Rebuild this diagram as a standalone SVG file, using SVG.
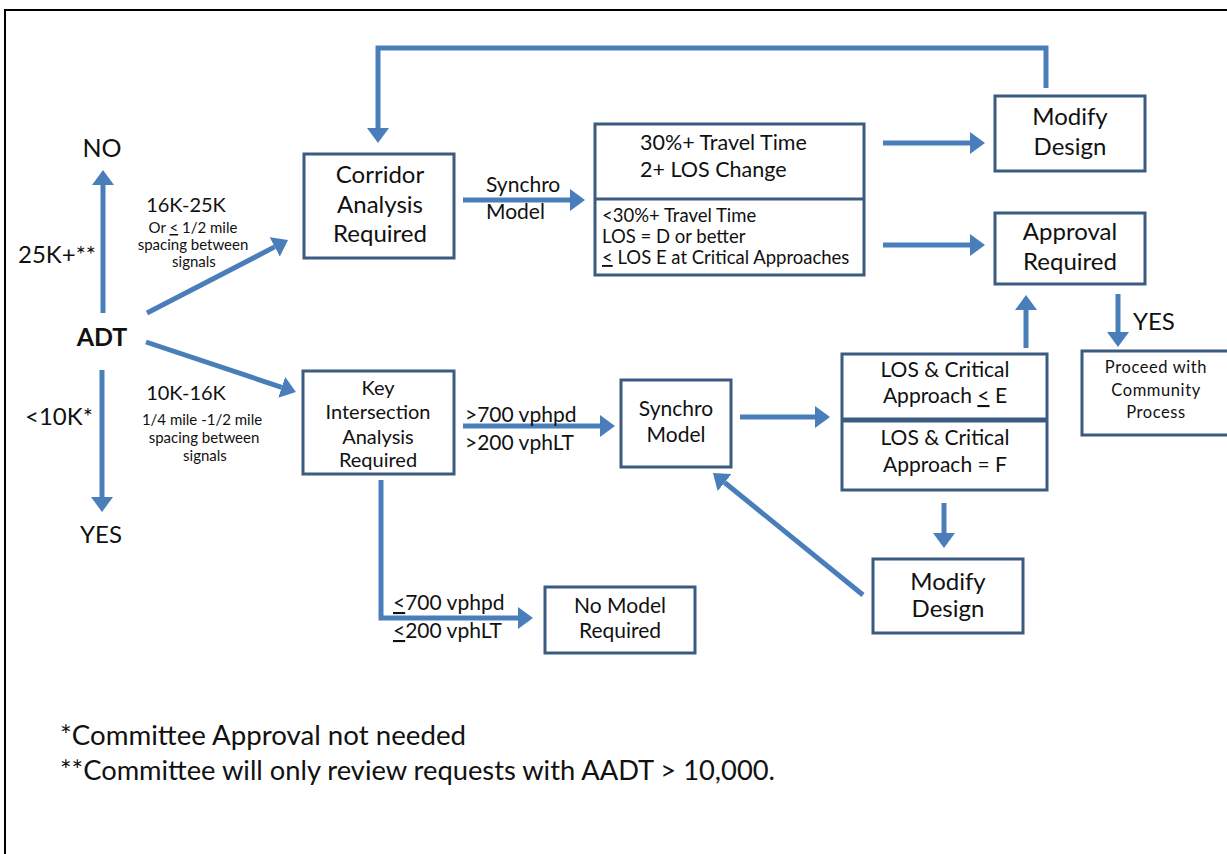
<svg xmlns="http://www.w3.org/2000/svg" width="1227" height="854" viewBox="0 0 1227 854">
<style>
text{font-family:Lato,"Open Sans","Liberation Sans",sans-serif;fill:#111}
.box{fill:#fff;stroke:#3b5b80;stroke-width:3}
.div{stroke:#3b5b80;stroke-width:3}
.con{fill:none;stroke:#4a7ebb;stroke-width:5}
.c{text-anchor:middle}
.b24{font-size:24px}
.b21{font-size:21px}
.b20{font-size:20px}
.lbl{font-size:24px}
.sm{font-size:15px}
.s18{font-size:18.5px}
.note{font-size:27.4px}
.u{text-decoration:underline}
</style>
<defs>
<marker id="ah" viewBox="0 0 15 22" refX="0" refY="11" markerWidth="15" markerHeight="22" markerUnits="userSpaceOnUse" orient="auto">
<path d="M0,0 L15,11 L0,22 z" fill="#4a7ebb"/>
</marker>
</defs>
<rect x="0" y="0" width="1227" height="854" fill="#fff"/>
<g id="frame">
<line x1="5" y1="10" x2="1227" y2="10" stroke="#000" stroke-width="2"/>
<line x1="5" y1="9" x2="5" y2="854" stroke="#000" stroke-width="2"/>
</g>
<g id="connectors">
<line class="con" x1="103" y1="313" x2="103" y2="185" marker-end="url(#ah)"/>
<line class="con" x1="102" y1="370" x2="102" y2="497" marker-end="url(#ah)"/>
<line class="con" x1="147" y1="313" x2="274.7" y2="246.9" marker-end="url(#ah)"/>
<line class="con" x1="146" y1="342" x2="281.7" y2="387.3" marker-end="url(#ah)"/>
<polyline class="con" points="1046,88 1046,48 378,48 378,128" marker-end="url(#ah)"/>
<line class="con" x1="463" y1="200" x2="570" y2="200" marker-end="url(#ah)"/>
<line class="con" x1="883" y1="143" x2="970" y2="143" marker-end="url(#ah)"/>
<line class="con" x1="883" y1="245" x2="970" y2="245" marker-end="url(#ah)"/>
<line class="con" x1="1026" y1="348" x2="1026" y2="310" marker-end="url(#ah)"/>
<line class="con" x1="1118" y1="294" x2="1118" y2="332" marker-end="url(#ah)"/>
<line class="con" x1="463" y1="426" x2="600" y2="426" marker-end="url(#ah)"/>
<line class="con" x1="740" y1="417" x2="815" y2="417" marker-end="url(#ah)"/>
<polyline class="con" points="381,480 381,618 518,618" marker-end="url(#ah)"/>
<line class="con" x1="944" y1="503" x2="944" y2="533" marker-end="url(#ah)"/>
<line class="con" x1="863" y1="595" x2="724.6" y2="482.5" marker-end="url(#ah)"/>
</g>
<g id="labels">
<text class="lbl c" x="102" y="157" style="font-size:25px">NO</text>
<text class="lbl" x="18" y="263">25K+**</text>
<text class="lbl c" x="102" y="346" font-weight="bold" style="font-size:25px">ADT</text>
<text class="lbl" x="25" y="425">&lt;10K*</text>
<text class="lbl c" x="101" y="543">YES</text>
<text class="b20 c" x="186" y="212">16K-25K</text>
<text class="sm c" x="193" y="233">Or <tspan class="u">&lt;</tspan> 1/2 mile</text>
<text class="sm c" x="193" y="250">spacing between</text>
<text class="sm c" x="194" y="267">signals</text>
<text class="b20 c" x="186" y="400">10K-16K</text>
<text class="sm c" x="202" y="425">1/4 mile -1/2 mile</text>
<text class="sm c" x="204" y="443">spacing between</text>
<text class="sm c" x="205" y="461">signals</text>
<text class="b21" x="486" y="192">Synchro</text>
<text class="b21" x="486" y="219">Model</text>
<text class="b21" x="465" y="422">&gt;700 vphpd</text>
<text class="b21" x="465" y="450">&gt;200 vphLT</text>
<text class="b21" x="393" y="610"><tspan class="u">&lt;</tspan>700 vphpd</text>
<text class="b21" x="393" y="638"><tspan class="u">&lt;</tspan>200 vphLT</text>
<text class="lbl" x="1133" y="330">YES</text>
</g>
<g id="corridor">
<rect class="box" x="304" y="154" width="150" height="104"/>
<text class="b24 c" x="380" y="183">Corridor</text>
<text class="b24 c" x="380" y="213">Analysis</text>
<text class="b24 c" x="380" y="242">Required</text>
</g>
<g id="criteria">
<rect class="box" x="595" y="124" width="269" height="151"/>
<line class="div" x1="595" y1="199" x2="864" y2="199"/>
<text class="b21" x="640" y="150" style="font-size:21.5px">30%+ Travel Time</text>
<text class="b21" x="640" y="177" style="font-size:21.5px">2+ LOS Change</text>
<text class="s18" x="602" y="222">&lt;30%+ Travel Time</text>
<text class="s18" x="602" y="243">LOS = D or better</text>
<text class="s18" x="602" y="264"><tspan class="u">&lt;</tspan> LOS E at Critical Approaches</text>
</g>
<g id="modify-top">
<rect class="box" x="995" y="96" width="150" height="75"/>
<text class="b24 c" x="1070" y="125">Modify</text>
<text class="b24 c" x="1070" y="155">Design</text>
</g>
<g id="approval">
<rect class="box" x="995" y="213" width="150" height="71"/>
<text class="b24 c" x="1070" y="240">Approval</text>
<text class="b24 c" x="1070" y="270">Required</text>
</g>
<g id="proceed">
<rect class="box" x="1082" y="351" width="160" height="84"/>
<text class="c" x="1156" y="373" style="font-size:16.5px;letter-spacing:0.6px">Proceed with</text>
<text class="c" x="1156" y="396" style="font-size:16.5px;letter-spacing:0.6px">Community</text>
<text class="c" x="1156" y="418" style="font-size:16.5px;letter-spacing:0.6px">Process</text>
</g>
<g id="los">
<rect class="box" x="842" y="354" width="205" height="136"/>
<line x1="842" y1="420" x2="1047" y2="420" stroke="#3b5b80" stroke-width="5"/>
<text class="b21 c" x="945" y="377">LOS &amp; Critical</text>
<text class="b21 c" x="945" y="403">Approach <tspan class="u">&lt;</tspan> E</text>
<text class="b21 c" x="945" y="445">LOS &amp; Critical</text>
<text class="b21 c" x="945" y="472">Approach = F</text>
</g>
<g id="key">
<rect class="box" x="303" y="371" width="151" height="103"/>
<text class="b20 c" x="378" y="395">Key</text>
<text class="b20 c" x="378" y="419">Intersection</text>
<text class="b20 c" x="378" y="444">Analysis</text>
<text class="b20 c" x="378" y="467">Required</text>
</g>
<g id="synchro">
<rect class="box" x="621" y="380" width="110" height="87"/>
<text class="b21 c" x="676" y="416">Synchro</text>
<text class="b21 c" x="676" y="442">Model</text>
</g>
<g id="nomodel">
<rect class="box" x="545" y="587" width="150" height="66"/>
<text class="b21 c" x="620" y="613">No Model</text>
<text class="b21 c" x="620" y="638">Required</text>
</g>
<g id="modify-bottom">
<rect class="box" x="873" y="559" width="150" height="74"/>
<text class="b24 c" x="948" y="590">Modify</text>
<text class="b24 c" x="948" y="617">Design</text>
</g>
<g id="notes">
<text class="note" x="60" y="745" textLength="406" lengthAdjust="spacingAndGlyphs">*Committee Approval not needed</text>
<text class="note" x="60" y="780" textLength="715" lengthAdjust="spacingAndGlyphs">**Committee will only review requests with AADT &gt; 10,000.</text>
</g>
</svg>
